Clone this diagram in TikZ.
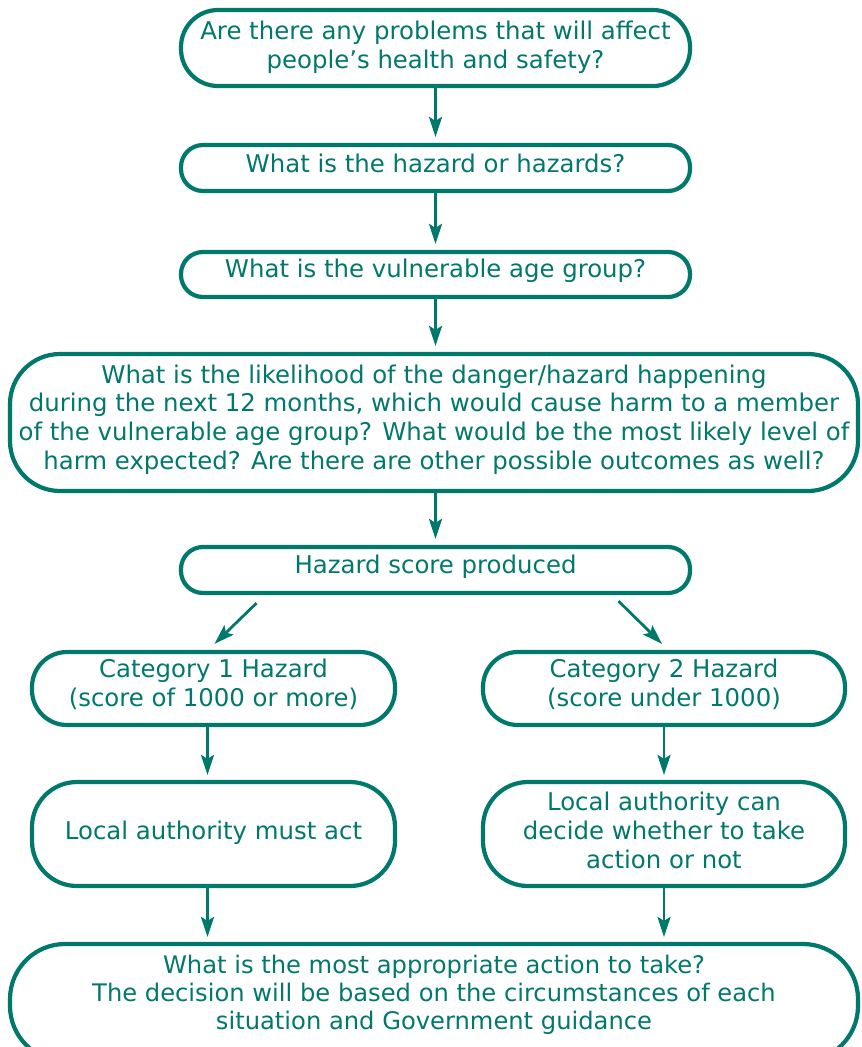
\documentclass[tikz,border=0pt]{standalone}
\usepackage{fontspec}
\setmainfont{DejaVu Sans}
\usetikzlibrary{arrows.meta}
\definecolor{tl}{HTML}{00786C}
\begin{document}
\begin{tikzpicture}[x=1pt,y=-1pt,
  bx/.style={draw=tl, line width=4.2pt, inner sep=0pt},
  txt/.style={text=tl, align=center, inner sep=0pt, font=\fontsize{24.4}{28.7}\selectfont},
  arr/.style={draw=tl, line width=2.8pt, -{Stealth[length=20pt,width=13pt,inset=4pt]}},
  vs/.style={shorten >=6pt}]
\useasboundingbox (0,0) rectangle (862,1047);
% boxes
\node[bx, minimum width=509pt, minimum height=76pt, rounded corners=37pt] (q1) at (435.5,48) {};
\node[bx, minimum width=509pt, minimum height=46pt, rounded corners=22pt] (q2) at (435.5,168) {};
\node[bx, minimum width=509pt, minimum height=45pt, rounded corners=22pt] (q3) at (435.5,274.5) {};
\node[bx, minimum width=848pt, minimum height=137pt, rounded corners=50pt] (q4) at (434,422.5) {};
\node[bx, minimum width=509pt, minimum height=46pt, rounded corners=22pt] (hs) at (435.5,570) {};
\node[bx, minimum width=363pt, minimum height=73pt, rounded corners=35pt] (c1) at (213.5,688.5) {};
\node[bx, minimum width=362pt, minimum height=73pt, rounded corners=35pt] (c2) at (664,688.5) {};
\node[bx, minimum width=363pt, minimum height=104pt, rounded corners=45pt] (m1) at (213.5,834) {};
\node[bx, minimum width=362pt, minimum height=104pt, rounded corners=45pt] (m2) at (664,834) {};
\node[bx, minimum width=848pt, minimum height=117pt, rounded corners=55pt] (fin) at (434,1002.5) {};
% texts
\node[txt] (t1) at (435.5,47.5) {Are there any problems that will affect\\people’s health and safety?};
\node[txt] (t2) at (435.5,163) {What is the hazard or hazards?};
\node[txt] (t3) at (435.5,270.5) {What is the vulnerable age group?};
\node[txt] (t4) at (434,419.5) {What is the likelihood of the danger/hazard happening\\during the next 12 months, which would cause harm to a member\\of the vulnerable age group? What would be the most likely level of\\harm expected? Are there are other possible outcomes as well?};
\node[txt] (t5) at (435.5,567) {Hazard score produced};
\node[txt] (t6) at (213.5,684.5) {Category 1 Hazard\\(score of 1000 or more)};
\node[txt] (t7) at (664,684.5) {Category 2 Hazard\\(score under 1000)};
\node[txt] (t8) at (213.5,833) {Local authority must act};
\node[txt] (t9) at (664,830.5) {Local authority can\\decide whether to take\\action or not};
\node[txt, font=\fontsize{24.2}{28}\selectfont] (t10) at (434,995) {What is the most appropriate action to take?\\The decision will be based on the circumstances of each\\situation and Government guidance};
% connectors
\coordinate (f1) at (fin.north -| m1.south);
\coordinate (f2) at (fin.north -| m2.south);
\draw[arr,vs] (q1) -- (q2);
\draw[arr,vs] (q2) -- (q3);
\draw[arr,vs] (q3.south) -- (q4.north -| q3.south);
\draw[arr,vs] (q4.south -| hs.north) -- (hs.north);
\draw[arr] ([shift={(-179pt,-8pt)}]hs.south) -- ([shift={(1pt,6pt)}]c1.north);
\draw[arr] ([shift={(183pt,-6pt)}]hs.south) -- ([shift={(-2pt,6pt)}]c2.north);
\draw[arr] ([xshift=-6pt]c1.south) -- ([shift={(-6pt,5pt)}]m1.north);
\draw[arr] (c2.south) -- ([yshift=5pt]m2.north);
\draw[arr] ([xshift=-6pt]m1.south) -- ([shift={(-6pt,5pt)}]f1);
\draw[arr] (m2.south) -- ([yshift=5pt]f2);
\end{tikzpicture}
\end{document}
